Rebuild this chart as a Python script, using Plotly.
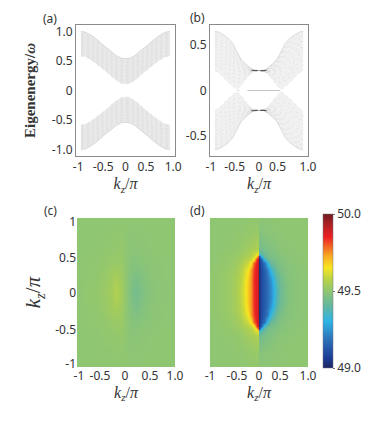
import plotly.graph_objects as go

# ---- data ----
k_half = [0, .1, .2, .3, .4, .5, .6, .7, .8, .9, 1.0]

band_a = [
    [.54, .55, .59, .65, .71, .77, .84, .90, .95, .99, 1.0],
    [.50, .51, .55, .61, .67, .74, .80, .86, .92, .95, .965],
    [.47, .48, .52, .58, .64, .70, .77, .83, .88, .92, .93],
    [.43, .44, .48, .54, .60, .67, .73, .79, .85, .88, .895],
    [.40, .41, .45, .51, .57, .63, .70, .76, .81, .85, .86],
    [.36, .37, .41, .47, .53, .60, .66, .72, .78, .81, .825],
    [.33, .34, .38, .44, .50, .56, .63, .69, .74, .78, .79],
    [.29, .30, .34, .40, .46, .53, .59, .65, .71, .74, .755],
    [.25, .26, .30, .36, .43, .49, .56, .62, .67, .71, .72],
    [.22, .23, .27, .33, .40, .46, .52, .58, .64, .67, .685],
    [.18, .19, .24, .30, .37, .42, .49, .55, .60, .64, .65],
    [.15, .16, .20, .26, .33, .39, .45, .51, .57, .60, .615],
    [.11, .12, .17, .23, .30, .36, .42, .48, .53, .57, .58],
]

band_b = [
    [.22, .222, .25, .29, .34, .43, .52, .575, .61, .64, .65],
    [.22, .221, .245, .28, .325, .405, .49, .55, .59, .62, .63],
    [.22, .220, .24, .27, .31, .38, .46, .52, .56, .59, .60],
    [.22, .219, .235, .26, .295, .35, .43, .49, .53, .56, .57],
    [.22, .218, .23, .25, .28, .325, .39, .45, .50, .53, .54],
    [.22, .218, .225, .24, .26, .30, .36, .42, .47, .50, .51],
    [.22, .217, .22, .23, .245, .27, .32, .38, .43, .465, .475],
    [.22, .217, .215, .22, .225, .24, .28, .34, .39, .43, .44],
    [.22, .216, .21, .205, .205, .21, .24, .30, .35, .39, .40],
    [.22, .215, .205, .19, .18, .17, .20, .25, .31, .35, .365],
    [.22, .214, .20, .17, .15, .13, .155, .20, .26, .31, .33],
    [.22, .213, .19, .15, .11, .08, .11, .15, .20, .26, .285],
    [.22, .21, .18, .12, .06, .01, .05, .09, .14, .19, .22],
]

flat_k = [-.48, -.45, None, -.26, 0, .25, .48]
flat_e = [0, 0, None, 0, 0, 0, 0]

pinch_k = [-.17, -.12, -.07, -.03, None, .03, .07, .12, .17]
pinch_e = [.222, .218, .216, .218, None, .218, .216, .218, .222]

x_c_half = [0, .1, .2, .3, .4, .6, 1.0]
y_c_half = [0, .1, .2, .3, .4, .6, 1.0]
z_c_left = [
    [49.50, 49.54, 49.56, 49.54, 49.525, 49.51, 49.50],
    [49.50, 49.535, 49.555, 49.535, 49.52, 49.51, 49.50],
    [49.50, 49.53, 49.545, 49.53, 49.52, 49.505, 49.50],
    [49.50, 49.525, 49.53, 49.525, 49.515, 49.505, 49.50],
    [49.50, 49.52, 49.52, 49.515, 49.51, 49.505, 49.50],
    [49.50, 49.51, 49.51, 49.505, 49.505, 49.50, 49.50],
    [49.50, 49.50, 49.50, 49.50, 49.50, 49.50, 49.50],
]

x_d_half = [.005, .04, .1, .16, .22, .28, .32, .36, .44, .6, .8, 1.0]
y_d_half = [0, .1, .2, .3, .4, .45, .49, .52, .6, .8, 1.0]
z_d_left = [
    [49.96, 49.88, 49.84, 49.75, 49.69, 49.64, 49.61, 49.59, 49.555, 49.525, 49.51, 49.505],
    [49.96, 49.88, 49.84, 49.75, 49.69, 49.64, 49.61, 49.585, 49.55, 49.525, 49.51, 49.505],
    [49.96, 49.88, 49.84, 49.75, 49.68, 49.63, 49.60, 49.58, 49.55, 49.525, 49.51, 49.505],
    [49.96, 49.88, 49.83, 49.74, 49.65, 49.61, 49.59, 49.57, 49.54, 49.52, 49.51, 49.505],
    [49.95, 49.87, 49.80, 49.66, 49.60, 49.58, 49.565, 49.55, 49.53, 49.515, 49.505, 49.50],
    [49.93, 49.85, 49.66, 49.60, 49.575, 49.56, 49.55, 49.54, 49.525, 49.515, 49.505, 49.50],
    [49.88, 49.70, 49.60, 49.57, 49.555, 49.545, 49.54, 49.53, 49.52, 49.51, 49.505, 49.50],
    [49.64, 49.62, 49.59, 49.565, 49.55, 49.54, 49.53, 49.525, 49.515, 49.51, 49.505, 49.50],
    [49.56, 49.555, 49.545, 49.54, 49.53, 49.525, 49.52, 49.515, 49.51, 49.505, 49.50, 49.50],
    [49.52, 49.52, 49.515, 49.515, 49.51, 49.51, 49.505, 49.505, 49.505, 49.50, 49.50, 49.50],
    [49.505, 49.505, 49.505, 49.505, 49.505, 49.50, 49.50, 49.50, 49.50, 49.50, 49.50, 49.50],
]
z_d_right = [
    [49.03, 49.10, 49.13, 49.17, 49.22, 49.28, 49.33, 49.37, 49.43, 49.475, 49.49, 49.495],
    [49.03, 49.10, 49.13, 49.17, 49.22, 49.29, 49.34, 49.38, 49.43, 49.475, 49.49, 49.495],
    [49.03, 49.10, 49.13, 49.18, 49.24, 49.31, 49.36, 49.40, 49.44, 49.48, 49.49, 49.495],
    [49.03, 49.10, 49.14, 49.20, 49.30, 49.37, 49.40, 49.43, 49.46, 49.48, 49.49, 49.495],
    [49.04, 49.11, 49.17, 49.30, 49.40, 49.43, 49.445, 49.455, 49.47, 49.485, 49.495, 49.50],
    [49.06, 49.14, 49.33, 49.41, 49.44, 49.45, 49.46, 49.465, 49.475, 49.485, 49.495, 49.50],
    [49.12, 49.30, 49.41, 49.44, 49.455, 49.46, 49.465, 49.47, 49.48, 49.49, 49.495, 49.50],
    [49.36, 49.39, 49.42, 49.445, 49.46, 49.465, 49.47, 49.475, 49.485, 49.49, 49.495, 49.50],
    [49.44, 49.445, 49.455, 49.46, 49.47, 49.475, 49.48, 49.485, 49.49, 49.495, 49.50, 49.50],
    [49.48, 49.48, 49.485, 49.485, 49.49, 49.49, 49.495, 49.495, 49.495, 49.50, 49.50, 49.50],
    [49.495, 49.495, 49.495, 49.495, 49.495, 49.50, 49.50, 49.50, 49.50, 49.50, 49.50, 49.50],
]

colors = [[0, "#1a2560"], [.07, "#1c3f96"], [.2, "#2f78bf"], [.30, "#2db4e8"], [.40, "#63b6a0"],
          [.5, "#8fc672"], [.57, "#b5d14a"], [.65, "#f6e61f"], [.73, "#f7a823"], [.85, "#ed2024"],
          [.93, "#b01f24"], [1, "#6f1d1f"]]

W, H = 374, 434
TXT = "#333333"
FONT = "Noto Sans"
KZ = "<i>k<sub>z</sub></i>/<i>π</i>"


def dom(x0, x1):
    return [x0 / W, x1 / W]


def ydom(top, bot):
    return [1 - bot / H, 1 - top / H]


def mirror_k(k):
    return [-v for v in reversed(k[1:])] + list(k)


def mirror_row(r):
    return list(reversed(r[1:])) + list(r)


fig = go.Figure()
LINE = dict(color="rgba(120,120,120,0.22)", width=0.5, shape="spline", smoothing=0.7, dash="dot")
EDGE = dict(color="rgba(120,120,120,0.45)", width=0.5, shape="spline", smoothing=0.7)
k_full = mirror_k(k_half)
for ax_x, ax_y, table, fill in (("x", "y", band_a, "#e9e9e9"), ("x2", "y2", band_b, "#f1f1f1")):
    top = mirror_row(table[0])
    bot = mirror_row(table[-1])
    for sign in (1, -1):
        fig.add_trace(go.Scatter(
            x=k_full + k_full[::-1], y=[sign * v for v in top + bot[::-1]], xaxis=ax_x, yaxis=ax_y,
            mode="none", fill="toself", fillcolor=fill, showlegend=False, hoverinfo="skip"))
        for i, row in enumerate(table):
            e = mirror_row(row)
            fig.add_trace(go.Scatter(x=k_full, y=[sign * v for v in e], xaxis=ax_x, yaxis=ax_y, mode="lines",
                                     line=EDGE if i == 0 else LINE, showlegend=False, hoverinfo="skip"))
fig.add_trace(go.Scatter(x=flat_k, y=flat_e, xaxis="x2", yaxis="y2", mode="lines",
                         line=dict(color="#c4c4c4", width=1), showlegend=False, hoverinfo="skip"))
for sign in (1, -1):
    fig.add_trace(go.Scatter(x=pinch_k, y=[None if v is None else sign * v for v in pinch_e], xaxis="x2", yaxis="y2",
                             mode="lines", line=dict(color="#555555", width=1.1), showlegend=False, hoverinfo="skip"))

xc = [-v for v in reversed(x_c_half[1:])] + x_c_half
yc = [-v for v in reversed(y_c_half[1:])] + y_c_half
zc = []
for row in list(reversed(z_c_left[1:])) + z_c_left:
    zc.append(list(reversed(row[1:])) + [round(99 - v, 4) for v in row])
fig.add_trace(go.Heatmap(x=xc, y=yc, z=zc, xaxis="x3", yaxis="y3", zmin=49, zmax=50, colorscale=colors,
                         zsmooth="best", showscale=False, hoverinfo="skip"))

xd = [-v for v in reversed(x_d_half)] + x_d_half
yd = [-v for v in reversed(y_d_half[1:])] + y_d_half
zd = []
for left, right in list(zip(z_d_left, z_d_right))[:0:-1] + list(zip(z_d_left, z_d_right)):
    zd.append(list(reversed(left)) + list(right))
fig.add_trace(go.Heatmap(
    x=xd, y=yd, z=zd, xaxis="x4", yaxis="y4", zmin=49, zmax=50, colorscale=colors, zsmooth="best",
    hoverinfo="skip",
    colorbar=dict(
        x=323 / W, xanchor="left", xpad=0, y=1 - 368 / H, yanchor="bottom", ypad=0,
        len=154 / H, lenmode="fraction", thickness=10, thicknessmode="pixels",
        outlinewidth=0.5, outlinecolor="#777777", tickvals=[49, 49.5, 50],
        ticktext=["49.0", "49.5", "50.0"], ticks="outside", ticklen=2, tickcolor="#777777",
        tickfont=dict(family=FONT, size=12, color=TXT),
    ),
))


def xaxis(x0, x1, vals, rng, frame, anchor, title_standoff):
    return dict(domain=dom(x0, x1), range=rng, tickmode="array", tickvals=vals,
                ticktext=["-1", "-0.5", "0", "0.5", "1.0"], ticks="", showgrid=False, zeroline=False,
                showline=frame, linecolor="#8a8a8a", linewidth=1, mirror=frame, anchor=anchor,
                tickfont=dict(family=FONT, size=12, color=TXT),
                title=dict(text=KZ, font=dict(family="Liberation Serif", size=16, color=TXT),
                           standoff=title_standoff))


def yaxis(top, bot, rng, vals, text, frame, anchor, **kw):
    return dict(domain=ydom(top, bot), range=rng, tickmode="array", tickvals=vals, ticktext=text, ticks="",
                showgrid=False, zeroline=False, showline=frame, linecolor="#8a8a8a", linewidth=1, mirror=frame,
                anchor=anchor, tickfont=dict(family=FONT, size=12, color=TXT), **kw)


fig.update_layout(
    width=W, height=H, autosize=False, margin=dict(l=0, r=0, t=0, b=0, autoexpand=False),
    paper_bgcolor="white", plot_bgcolor="white", showlegend=False,
    xaxis=xaxis(76, 175, [-1.06, -.5, 0, .46, 1.07], [-1.11, 1.11], True, "y", 3),
    xaxis2=xaxis(210, 308, [-1.09, -.55, 0, .42, 1.11], [-1.11, 1.11], True, "y2", 3),
    xaxis3=xaxis(77, 175, [-.96, -.53, -.02, .49, 1.0], [-1, 1], False, "y3", 3),
    xaxis4=xaxis(210, 308, [-1, -.45, 0, .43, 1.0], [-1, 1], False, "y4", 3),
    yaxis=yaxis(25, 156, [-1.11, 1.11], [-1, -.5, 0, .5, 1], ["-1.0", "-0.5", "0", "0.5", "1.0"], True, "x",
                title=dict(text="<b>Eigenenergy/<i>ω</i></b>",
                           font=dict(family="Liberation Serif", size=15, color=TXT), standoff=12)),
    yaxis2=yaxis(25, 156, [-.72, .72], [-.5, 0, .5], ["-0.5", "0", "0.5"], True, "x2"),
    yaxis3=yaxis(218, 367, [-1, 1], [-.96, -.5, 0, .46, .945], ["-1", "-0.5", "0", "0.5", "1"], False, "x3",
                 title=dict(text=KZ, font=dict(family="Liberation Serif", size=21, color=TXT), standoff=8)),
    yaxis4=yaxis(218, 367, [-1, 1], [], [], False, "x4"),
)

for label, px, py in (("(a)", 50, 18), ("(b)", 197, 17), ("(c)", 50, 211), ("(d)", 197, 210)):
    fig.add_annotation(text=label, x=px / W, y=1 - py / H, xref="paper", yref="paper", showarrow=False,
                       xanchor="center", yanchor="middle", font=dict(family=FONT, size=12, color=TXT))

fig.write_html("out.html", config={"displayModeBar": False}, post_script="document.body.style.margin='0';")
